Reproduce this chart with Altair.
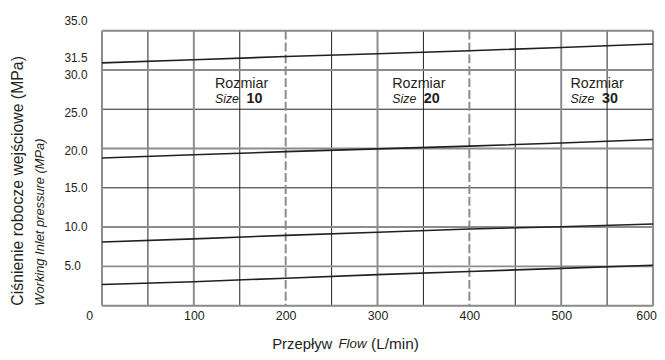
import altair as alt
import pandas as pd

# ---- data ----
flow = [0, 100, 200, 300, 400, 500, 600]
line_a = [30.9, 31.3, 31.7, 32.05, 32.45, 32.85, 33.3]
line_b = [18.8, 19.2, 19.6, 19.95, 20.3, 20.7, 21.15]
line_c = [8.1, 8.5, 8.95, 9.35, 9.75, 10.05, 10.4]
line_d = [2.7, 3.05, 3.5, 3.95, 4.35, 4.75, 5.15]

x_ticks = [0, 100, 200, 300, 400, 500, 600]
y_ticks = [5, 10, 15, 20, 25, 30, 31.5, 35]
y_tick_labels = ["5.0", "10.0", "15.0", "20.0", "25.0", "30.0", "31.5", "35.0"]

grid_x_major = [0, 100, 300, 500, 600]
grid_x_minor = [50, 150, 250, 350, 450, 550]
grid_x_dashed = [200, 400]
grid_y_major = [0, 5, 10, 20, 30, 35]
grid_y_minor = [15, 25]

size_labels = ["10", "20", "30"]
size_x = [123, 316, 510]
size_y_top = 28.2
size_y_bottom = 26.35

FONT = "Liberation Sans"
INK = "#231f20"
GRAY = "#8c8c8c"

# small pixel nudges of the y tick labels, as printed in the original
y_label_nudge = [0, 0, 0, 3, 4, 5, 0, -10]

rows = []
for name, vals in [("a", line_a), ("b", line_b), ("c", line_c), ("d", line_d)]:
    for f, v in zip(flow, vals):
        rows.append({"series": name, "flow": f, "p": v})
lines_df = pd.DataFrame(rows)

xs = alt.Scale(domain=[0, 600], nice=False, zero=False)
ys = alt.Scale(domain=[0, 35], nice=False, zero=False)

x_offset = {
    "condition": [
        {"test": "datum.value == 0", "value": -13},
        {"test": "datum.value == 600", "value": -7},
    ],
    "value": 0,
}

AX = alt.Axis(values=x_ticks, grid=False, domain=False, ticks=False, tickSize=0, title=None,
              labelPadding=4, labelFont=FONT, labelFontSize=12.5, labelColor=INK,
              labelOffset=x_offset, labelFlush=False, labelOverlap=False)


def vrule(vals, color, width, dash=None):
    kw = dict(color=color, strokeWidth=width)
    if dash:
        kw["strokeDash"] = dash
    return alt.Chart(pd.DataFrame({"v": vals})).mark_rule(**kw).encode(
        x=alt.X("v:Q", scale=xs, axis=AX, title=None)
    )


def hrule(vals, color, width):
    return alt.Chart(pd.DataFrame({"v": vals})).mark_rule(color=color, strokeWidth=width).encode(
        y=alt.Y("v:Q", scale=ys, axis=None, title=None)
    )


lines = alt.Chart(lines_df).mark_line(color=INK, strokeWidth=1.6).encode(
    x=alt.X("flow:Q", scale=xs, axis=AX, title=None),
    y=alt.Y("p:Q", scale=ys, axis=None, title=None),
    detail="series:N",
)

ylab_df = pd.DataFrame({"v": y_ticks, "t": y_tick_labels, "o": y_label_nudge})
ylabel_layers = []
for nudge in sorted(set(y_label_nudge)):
    ylabel_layers.append(
        alt.Chart(ylab_df[ylab_df["o"] == nudge]).mark_text(
            align="left", baseline="middle", font=FONT, fontSize=12, color=INK, dy=nudge
        ).encode(
            x=alt.value(-38),
            y=alt.Y("v:Q", scale=ys, axis=None, title=None),
            text="t:N",
        )
    )

ann_df = pd.DataFrame({"x": size_x, "n": size_labels})
rozmiar = alt.Chart(ann_df).mark_text(
    text="Rozmiar", align="left", baseline="middle", font=FONT, fontSize=14.5, color=INK
).encode(x=alt.X("x:Q", scale=xs, axis=AX, title=None), y=alt.datum(size_y_top))
size_word = alt.Chart(ann_df).mark_text(
    text="Size", align="left", baseline="middle", font=FONT, fontSize=12.5, fontStyle="italic", color=INK
).encode(x=alt.X("x:Q", scale=xs, axis=AX, title=None), y=alt.datum(size_y_bottom))
size_num = alt.Chart(ann_df).mark_text(
    align="left", baseline="middle", font=FONT, fontSize=14.5, fontWeight="bold", color=INK, dx=32
).encode(x=alt.X("x:Q", scale=xs, axis=AX, title=None), y=alt.datum(size_y_bottom), text="n:N")

one = pd.DataFrame({"k": [0]})


def label(text, x, y, size, style="normal", angle=0):
    kw = dict(text=text, align="left", baseline="middle", font=FONT, fontSize=size,
              fontStyle=style, color=INK)
    if angle:
        kw["angle"] = angle
    return alt.Chart(one).mark_text(**kw).encode(x=alt.value(x), y=alt.value(y))


titles = [
    label("Ciśnienie robocze wejściowe (MPa)", -85, 278, 16, angle=270),
    label("Working Inlet pressure (MPa)", -63, 278, 13, "italic", angle=270),
    label("Przepływ", 172, 317, 15),
    label("Flow", 239, 317, 13.5, "italic"),
    label("(L/min)", 272, 317, 15.5),
]

chart = alt.layer(
    vrule(grid_x_minor, INK, 1),
    hrule(grid_y_minor, INK, 1),
    vrule(grid_x_major, GRAY, 2),
    vrule(grid_x_dashed, GRAY, 2, [9, 3]),
    hrule(grid_y_major, GRAY, 2),
    lines,
    *ylabel_layers,
    rozmiar, size_word, size_num,
    *titles,
).properties(
    width=557, height=278,
    autosize=alt.AutoSizeParams(type="none"),
    padding={"left": 95, "top": 21, "right": 4, "bottom": 50},
).configure_view(stroke=None).configure_axis(
    labelOverlap=False, labelFlush=False
).configure(background="white")

chart.save("out.html", embed_options={"renderer": "svg", "actions": False})
